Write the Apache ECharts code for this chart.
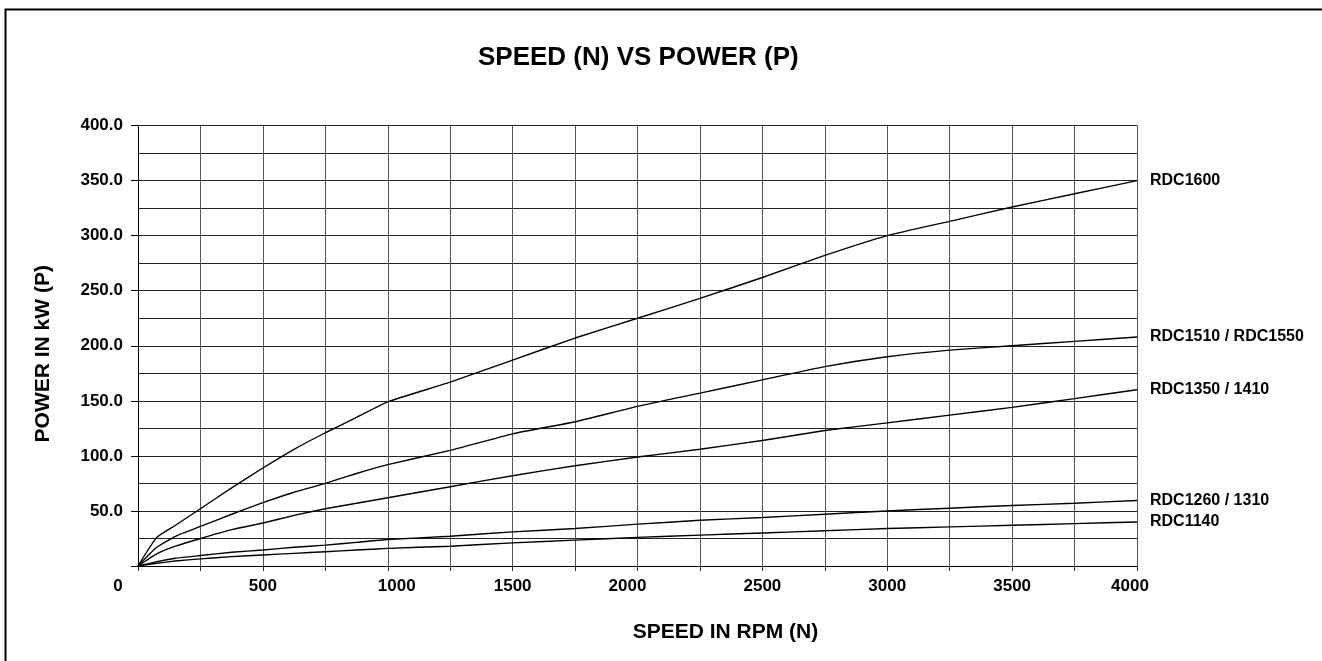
<!DOCTYPE html>
<html>
<head>
<meta charset="utf-8">
<script src="https://cdn.jsdelivr.net/npm/echarts@6/dist/echarts.min.js"></script>
<style>
html,body{margin:0;padding:0;background:#fff;}
#c{width:1322px;height:661px;}
</style>
</head>
<body>
<div id="c"></div>
<script>
const speeds = [0, 75, 150, 250, 375, 500, 625, 750, 875, 1000, 1250, 1500, 1750, 2000, 2250, 2500, 2750, 3000, 3250, 3500, 3750, 4000];
const rdc1600 = [0, 26, 37, 52, 71, 89, 106, 121, 135, 149, 167, 187, 207, 225, 243, 262, 282, 300, 313, 326, 338, 350];
const rdc1510 = [0, 17, 27, 36, 47, 57.5, 67, 75, 84, 92, 105, 120, 131, 145, 157, 169, 181, 190, 196, 200, 204, 208];
const rdc1350 = [0, 11, 18, 25, 33, 39, 46, 52, 57, 62, 72, 82, 91, 99, 106, 114, 123, 130, 137, 144, 152, 160];
const rdc1260 = [0, 4, 7, 9.5, 12.5, 14.5, 17, 19, 21.5, 24, 27, 31, 34, 38, 41.5, 44, 47, 50, 52.5, 55, 57, 59.5];
const rdc1140 = [0, 2.5, 4.5, 6.5, 8.5, 10, 11.5, 13, 14.5, 16, 18, 21, 23.5, 26, 28, 30, 32, 34, 35.5, 37, 38.5, 40];
const seriesNames = ['RDC1600', 'RDC1510 / RDC1550', 'RDC1350 / 1410', 'RDC1260 / 1310', 'RDC1140'];
const seriesValues = [rdc1600, rdc1510, rdc1350, rdc1260, rdc1140];
const xTickLabels = ['0', '500', '1000', '1500', '2000', '2500', '3000', '3500', '4000'];
const yTickLabels = ['50.0', '100.0', '150.0', '200.0', '250.0', '300.0', '350.0', '400.0'];

const FONT = "'Liberation Sans', Arial, sans-serif";
const chart = echarts.init(document.getElementById('c'), null, {renderer: 'canvas'});

// horizontal nudges of x labels (px) to mimic the original placement
const xShift = {0: -20, 1000: 9, 2000: -10, 4000: -7};

const xRich = {n: {fontFamily: FONT, fontWeight: 'bold', fontSize: 17, color: '#000'}};
Object.keys(xShift).forEach(function (k) {
  const sh = xShift[k];
  xRich['s' + k] = {
    fontFamily: FONT, fontWeight: 'bold', fontSize: 17, color: '#000',
    padding: sh < 0 ? [0, -2 * sh, 0, 0] : [0, 0, 0, 2 * sh]
  };
});

const option = {
  animation: false,
  backgroundColor: '#fff',
  title: {
    text: 'SPEED (N) VS POWER (P)',
    left: 478,
    top: 45,
    padding: 0,
    textStyle: {fontFamily: FONT, fontWeight: 'bold', fontSize: 26, color: '#000'}
  },
  graphic: [{
    type: 'rect',
    shape: {x: 5.5, y: 9.5, width: 1340, height: 680},
    style: {fill: 'none', stroke: '#000', lineWidth: 2},
    silent: true
  }],
  grid: {left: 138, right: 185, top: 125.5, bottom: 95, containLabel: false},
  xAxis: {
    type: 'value',
    min: 0, max: 4000, interval: 250,
    name: 'SPEED IN RPM (N)',
    nameLocation: 'middle',
    nameGap: 56,
    nameTextStyle: {fontFamily: FONT, fontWeight: 'bold', fontSize: 21, color: '#000', padding: [0, 0, 0, 176]},
    axisLine: {show: true, lineStyle: {color: '#000', width: 1}},
    axisTick: {show: true, length: 5, lineStyle: {color: '#333'}},
    splitLine: {show: true, lineStyle: {color: '#555', width: 1}},
    axisLabel: {
      margin: 12,
      formatter: function (v) {
        const s = String(v);
        if (xTickLabels.indexOf(s) < 0) return '';
        const sh = xShift[v] || 0;
        if (sh === 0) return '{n|' + s + '}';
        return '{s' + v + '|' + s + '}';
      },
      rich: xRich,
      showMinLabel: true, showMaxLabel: true
    }
  },
  yAxis: {
    type: 'value',
    min: 0, max: 400, interval: 50,
    name: 'POWER IN kW (P)',
    nameLocation: 'middle',
    nameGap: 84,
    nameTextStyle: {fontFamily: FONT, fontWeight: 'bold', fontSize: 21, color: '#000', padding: [0, 16, 0, 0]},
    axisLine: {show: true, lineStyle: {color: '#000', width: 1}},
    axisTick: {show: true, length: 7, lineStyle: {color: '#000'}},
    splitLine: {show: true, lineStyle: {color: '#222', width: 1}},
    minorTick: {show: false, splitNumber: 2},
    minorSplitLine: {show: true, lineStyle: {color: '#222', width: 1}},
    axisLabel: {
      margin: 15,
      fontFamily: FONT, fontWeight: 'bold', fontSize: 17, color: '#000',
      padding: [4, 0, 0, 0],
      formatter: function (v) {
        const s = v.toFixed(1);
        return yTickLabels.indexOf(s) >= 0 ? s : '';
      }
    }
  },
  series: seriesNames.map(function (name, i) {
    return {
      name: name,
      type: 'line',
      data: speeds.map(function (x, j) { return [x, seriesValues[i][j]]; }),
      showSymbol: false,
      symbol: 'none',
      smooth: 0.15,
      lineStyle: {color: '#000', width: 1.4},
      endLabel: {
        show: true,
        formatter: '{a}',
        distance: 13,
        fontFamily: FONT, fontWeight: 'bold', fontSize: 16, color: '#000'
      },
      z: 5
    };
  })
};
chart.setOption(option);
</script>
</body>
</html>
